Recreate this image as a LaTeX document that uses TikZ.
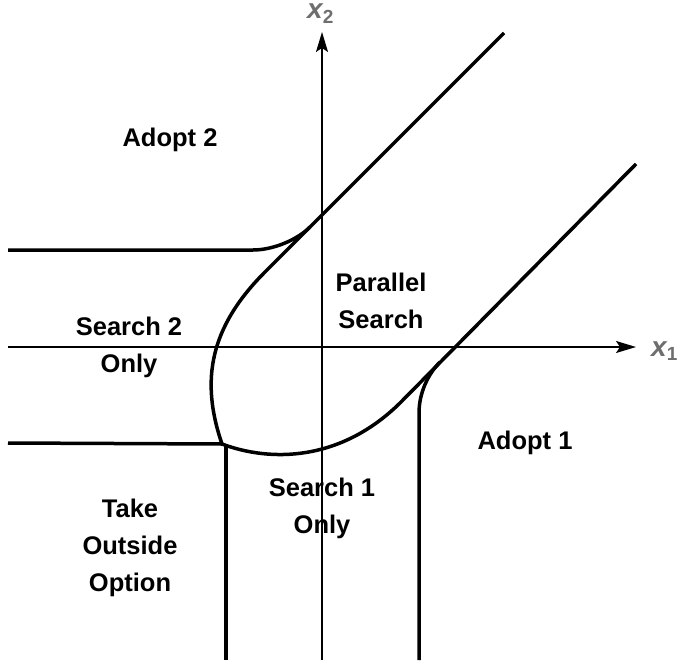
\documentclass[tikz,border=0pt]{standalone}
\usepackage{fontspec}
\setmainfont{Liberation Sans}
\usetikzlibrary{arrows.meta}
\definecolor{axislabel}{RGB}{110,110,110}
\begin{document}
\begin{tikzpicture}[x=1pt,y=-1pt,
  boundary/.style={line width=3.5pt},
  axis/.style={line width=1.8pt,-{Stealth[length=20pt,width=12pt,inset=4pt]}},
  region/.style={font=\fontsize{25.5}{37}\selectfont\bfseries,align=center,inner sep=0pt},
  axlabel/.style={text=axislabel,font=\fontsize{28}{28}\selectfont\bfseries,inner sep=0pt}]
  \useasboundingbox (0,0) rectangle (679,663);

  % axes
  \coordinate (x1from) at (8,347);
  \coordinate (x1to) at (636,347);
  \coordinate (x2from) at (322,660);
  \coordinate (x2to) at (322,32);
  \draw[axis] (x1from) -- (x1to);
  \draw[axis] (x2from) -- (x2to);
  \node[axlabel,anchor=base west] (lx1) at (651,356)
    {\itshape x\raisebox{-4.5pt}{\fontsize{19}{19}\selectfont\upshape 1}};
  \node[axlabel,anchor=base west] (lx2) at (307,19)
    {\itshape x\raisebox{-4.5pt}{\fontsize{19}{19}\selectfont\upshape 2}};

  % main boundary: two arms meeting at the kink
  \coordinate (upend) at (504,33);
  \coordinate (upbend) at (265,272);
  \coordinate (kink) at (222,444);
  \coordinate (lowbend) at (400,403);
  \coordinate (lowend) at (636,164);
  \draw[boundary] (upend) -- (upbend)
    .. controls (210,327) and (200,380) .. (kink);
  \draw[boundary] (kink) .. controls (270,462) and (340,462) .. (lowbend)
    -- (lowend);

  % upper horizontal boundary merging into the upper arm
  \coordinate (hupstart) at (8,250);
  \coordinate (hupcorner) at (253,250);
  \coordinate (hupjoin) at (310,227);
  \draw[boundary] (hupstart) -- (hupcorner)
    .. controls (273,250) and (297,240) .. (hupjoin);

  % lower horizontal boundary
  \coordinate (hlowstart) at (8,443);
  \draw[boundary] (hlowstart) -- (kink);

  % left vertical boundary
  \coordinate (vlefttop) at (226,446);
  \coordinate (vleftbot) at (226,660);
  \draw[boundary] (vlefttop) -- (vleftbot);

  % right vertical boundary merging into the lower arm
  \coordinate (vrightbot) at (419,660);
  \coordinate (vrightcorner) at (419,413);
  \coordinate (vrightjoin) at (440,362);
  \draw[boundary] (vrightbot) -- (vrightcorner)
    .. controls (419,393) and (428,374) .. (vrightjoin);

  % region labels
  \node[region] (adopt2) at (170,140) {Adopt 2};
  \node[region] (parallel) at (381,301) {Parallel\\Search};
  \node[region] (search2) at (129,347) {Search 2\\Only};
  \node[region] (adopt1) at (525,443) {Adopt 1};
  \node[region] (outside) at (130,548) {Take\\Outside\\Option};
  \node[region] (search1) at (322,508) {Search 1\\Only};
\end{tikzpicture}
\end{document}
